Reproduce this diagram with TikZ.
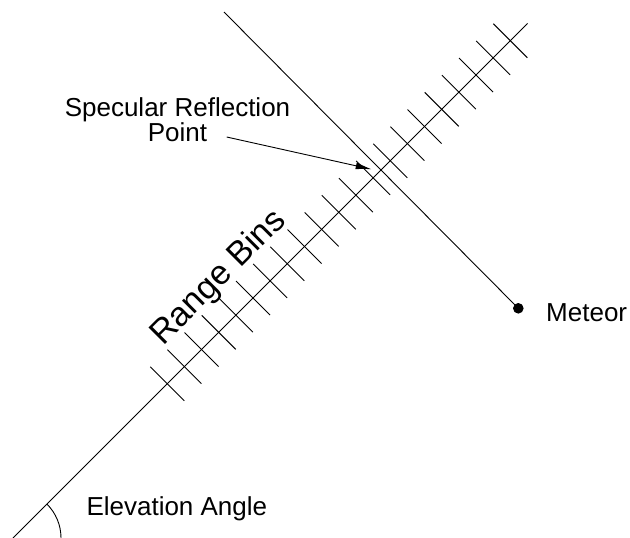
\documentclass[tikz,border=0pt]{standalone}
\usepackage{fontspec}
\setmainfont{Liberation Sans}
\usetikzlibrary{calc,arrows.meta}
\tikzset{
  ray/.style={line width=0.9pt},
  bin/.style={line width=0.9pt},
  lbl/.style={font=\fontsize{26}{25}\selectfont, inner sep=0pt},
  biglbl/.style={font=\fontsize{34}{36}\selectfont, inner sep=0pt},
  meteordot/.style={circle, fill, minimum size=10.6pt, inner sep=0pt},
}
\begin{document}
\begin{tikzpicture}[x=1pt, y=-1pt]
    \useasboundingbox (0,0) rectangle (630,538);
    \coordinate (O) at (13,538);
    \coordinate (E) at (527.6,23.4);
    \draw[ray] (O) -- (E);
    \foreach \k [evaluate=\k as \s using 218.1+24.26*\k] in {0,...,20}{
      \coordinate (bin\k) at ($(O)!\s pt!(E)$);
      \draw[bin] (bin\k) ++(-17,-17) -- ++(34,34);
    }
    \draw[ray] ($(O)+(48,0)$) arc[start angle=0, end angle=-45, radius=48];
    \coordinate (mtop) at (224,12);
    \node[meteordot] (meteor) at (518.3,308.3) {};
    \draw[ray] (mtop) -- (meteor.center);
    \coordinate (ptr) at (226.7,137);
    \coordinate (spec) at (371.7,169.3);
    \draw[ray, -{Latex[length=16pt,width=7pt]}] (ptr) -- (spec);
    \node[lbl, anchor=base, align=center] (speclbl) at (177.5,141.7) {Specular Reflection\\Point};
    \node[lbl, anchor=base west] (meteorlbl) at (546,321.7) {Meteor};
    \node[lbl, anchor=base west] (elevlbl) at (86.3,515) {Elevation Angle};
    \node[biglbl, rotate=45] (binslbl) at (219,278) {Range Bins};
  \end{tikzpicture}
\end{document}
